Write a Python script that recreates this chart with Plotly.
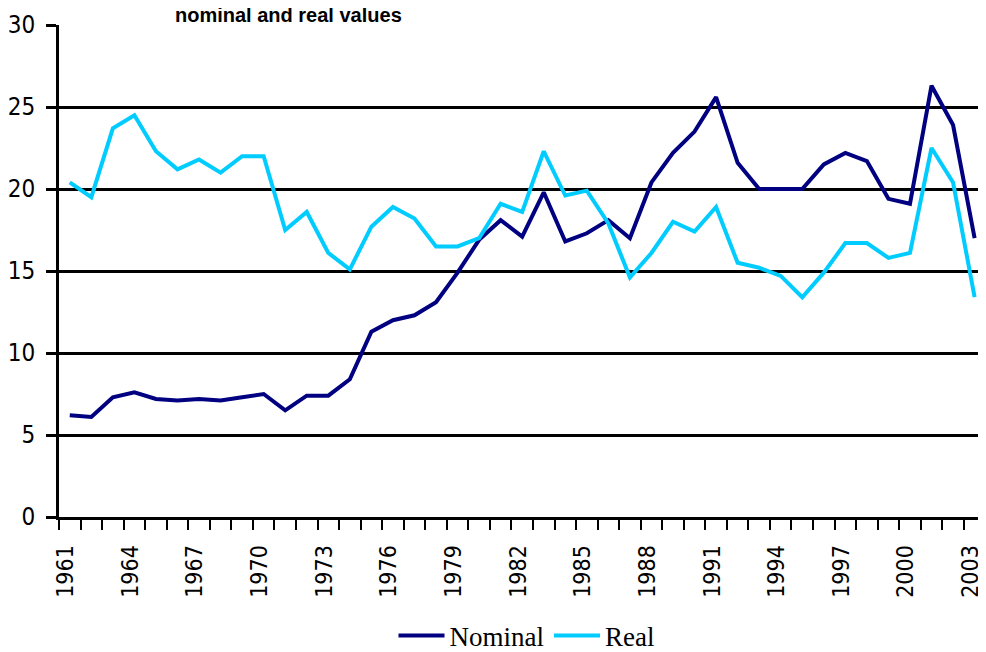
"""Nominal and real values, 1961-2003: two line series on a category-style year axis."""

import plotly.graph_objects as go

years = list(range(1961, 2004))

nominal = [
    6.2, 6.1, 7.3, 7.6, 7.2, 7.1, 7.2, 7.1, 7.3, 7.5,
    6.5, 7.4, 7.4, 8.4, 11.3, 12.0, 12.3, 13.1, 14.9, 16.9,
    18.1, 17.1, 19.8, 16.8, 17.3, 18.1, 17.0, 20.4, 22.2, 23.5,
    25.6, 21.6, 20.0, 20.0, 20.0, 21.5, 22.2, 21.7, 19.4, 19.1,
    26.3, 23.9, 17.0,
]

real = [
    20.4, 19.5, 23.7, 24.5, 22.3, 21.2, 21.8, 21.0, 22.0, 22.0,
    17.5, 18.6, 16.1, 15.1, 17.7, 18.9, 18.2, 16.5, 16.5, 17.0,
    19.1, 18.6, 22.3, 19.6, 19.9, 17.9, 14.6, 16.1, 18.0, 17.4,
    18.9, 15.5, 15.2, 14.7, 13.4, 14.9, 16.7, 16.7, 15.8, 16.1,
    22.5, 20.4, 13.4,
]

label_years = years[::3]
y_ticks = [0, 5, 10, 15, 20, 25, 30]

NAVY = "#000080"
CYAN = "#00CCFF"
AXIS_FONT = "DejaVu Sans Condensed, DejaVu Sans, sans-serif"

# Excel draws year ticks between categories, labels on the categories.
boundaries = [y - 0.5 for y in years]

fig = go.Figure()
fig.add_trace(go.Scatter(x=years, y=nominal, mode="lines", name="Nominal",
                         line={"color": NAVY, "width": 4}))
fig.add_trace(go.Scatter(x=years, y=real, mode="lines", name="Real",
                         line={"color": CYAN, "width": 4}))

# The page body adds an 8px offset, so margins are 8px smaller than the
# reference positions. The x range runs a little past 2003 so the last
# point stays inside the visible window.
fig.update_layout(
    width=986,
    height=652,
    margin={"l": 51, "r": 0, "t": 17, "b": 143},
    paper_bgcolor="white",
    plot_bgcolor="white",
    showlegend=True,
    legend={
        "orientation": "h",
        "xref": "paper",
        "x": 0.5,
        "xanchor": "center",
        # container ref keeps the legend from pushing the bottom margin
        "yref": "container",
        "y": 0.037,
        "yanchor": "middle",
        "itemwidth": 46,
        "font": {"family": "Liberation Serif, Times New Roman, serif", "size": 27, "color": "black"},
    },
    xaxis={
        "range": [1960.5, 2003.9],
        "automargin": False,
        "tickmode": "array",
        "tickvals": label_years,
        "ticktext": [str(y) for y in label_years],
        "tickangle": -90,
        "ticklabelshift": -4,
        "ticks": "outside",
        "ticklen": 16,
        "tickcolor": "rgba(0,0,0,0)",
        "tickfont": {"family": AXIS_FONT, "size": 23, "color": "black"},
        "showgrid": False,
        "zeroline": False,
        "showline": True,
        "linecolor": "black",
        "linewidth": 3,
        "minor": {
            "tickmode": "array",
            "tickvals": boundaries,
            "ticks": "outside",
            "ticklen": 10,
            "tickwidth": 2,
            "tickcolor": "black",
            "showgrid": False,
        },
    },
    yaxis={
        "range": [0, 30],
        "automargin": False,
        "tickmode": "array",
        "tickvals": y_ticks,
        "ticks": "outside",
        "ticklen": 10,
        "tickwidth": 3,
        "tickcolor": "black",
        "ticklabelstandoff": 6,
        "tickfont": {"family": AXIS_FONT, "size": 24, "color": "black"},
        "showgrid": True,
        "gridcolor": "black",
        "gridwidth": 3,
        "zeroline": False,
        "showline": True,
        "linecolor": "black",
        "linewidth": 3,
    },
    annotations=[
        {
            "text": "<b>nominal and real values</b>",
            "xref": "paper",
            "yref": "paper",
            "x": 0.245,
            "y": 1,
            "xanchor": "center",
            "yanchor": "bottom",
            "yshift": -3,
            "showarrow": False,
            "font": {"family": "Liberation Sans, Arial, sans-serif", "size": 20, "color": "black"},
        }
    ],
)

fig.write_html("out.html")
